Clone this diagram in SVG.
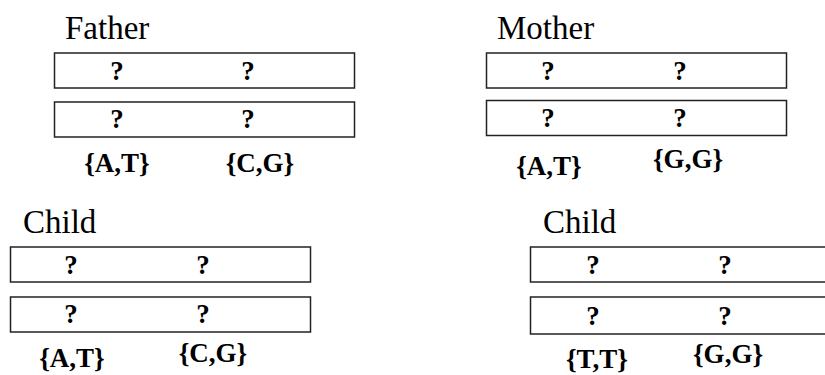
<svg xmlns="http://www.w3.org/2000/svg" width="825" height="375" viewBox="0 0 825 375">
  <style>
    .title { font-family: "Liberation Serif", serif; font-size: 33px; fill: #000; }
    .q { font-family: "Liberation Serif", serif; font-size: 27px; font-weight: 700; fill: #000; text-anchor: middle; }
    .set { font-family: "Liberation Serif", serif; font-size: 27px; font-weight: 700; fill: #000; text-anchor: middle; }
    .strand { fill: #fff; stroke: #222; stroke-width: 1.5; }
  </style>
  <rect width="825" height="375" fill="#fff"/>

  <!-- Father genotype -->
  <g id="father">
    <text class="title" x="65" y="39">Father</text>
    <rect class="strand" x="54.5" y="53" width="300" height="35"/>
    <rect class="strand" x="54.5" y="102" width="300" height="35"/>
    <text class="q" x="117" y="80">?</text>
    <text class="q" x="248" y="80">?</text>
    <text class="q" x="117" y="128">?</text>
    <text class="q" x="248" y="128">?</text>
    <text class="set" x="117" y="172">{A,T}</text>
    <text class="set" x="260" y="172">{C,G}</text>
  </g>

  <!-- Mother genotype -->
  <g id="mother">
    <text class="title" x="497" y="39">Mother</text>
    <rect class="strand" x="486.5" y="53" width="300" height="35"/>
    <rect class="strand" x="486.5" y="100.5" width="300" height="35"/>
    <text class="q" x="548" y="80">?</text>
    <text class="q" x="680" y="80">?</text>
    <text class="q" x="548" y="127">?</text>
    <text class="q" x="680" y="127">?</text>
    <text class="set" x="549" y="175">{A,T}</text>
    <text class="set" x="688" y="168">{G,G}</text>
  </g>

  <!-- Child (left) -->
  <g id="child-left">
    <text class="title" x="23" y="233">Child</text>
    <rect class="strand" x="10.5" y="247" width="300" height="35"/>
    <rect class="strand" x="10.5" y="297" width="300" height="35"/>
    <text class="q" x="71" y="274">?</text>
    <text class="q" x="203" y="274">?</text>
    <text class="q" x="71" y="323">?</text>
    <text class="q" x="203" y="323">?</text>
    <text class="set" x="72" y="367">{A,T}</text>
    <text class="set" x="213" y="362">{C,G}</text>
  </g>

  <!-- Child (right) -->
  <g id="child-right">
    <text class="title" x="543" y="233">Child</text>
    <rect class="strand" x="530.5" y="247" width="300" height="35"/>
    <rect class="strand" x="530.5" y="297" width="300" height="37"/>
    <text class="q" x="593" y="274">?</text>
    <text class="q" x="725" y="274">?</text>
    <text class="q" x="593" y="325">?</text>
    <text class="q" x="725" y="325">?</text>
    <text class="set" x="597" y="368">{T,T}</text>
    <text class="set" x="728" y="363">{G,G}</text>
  </g>

  <g id="connectors"></g>
</svg>
